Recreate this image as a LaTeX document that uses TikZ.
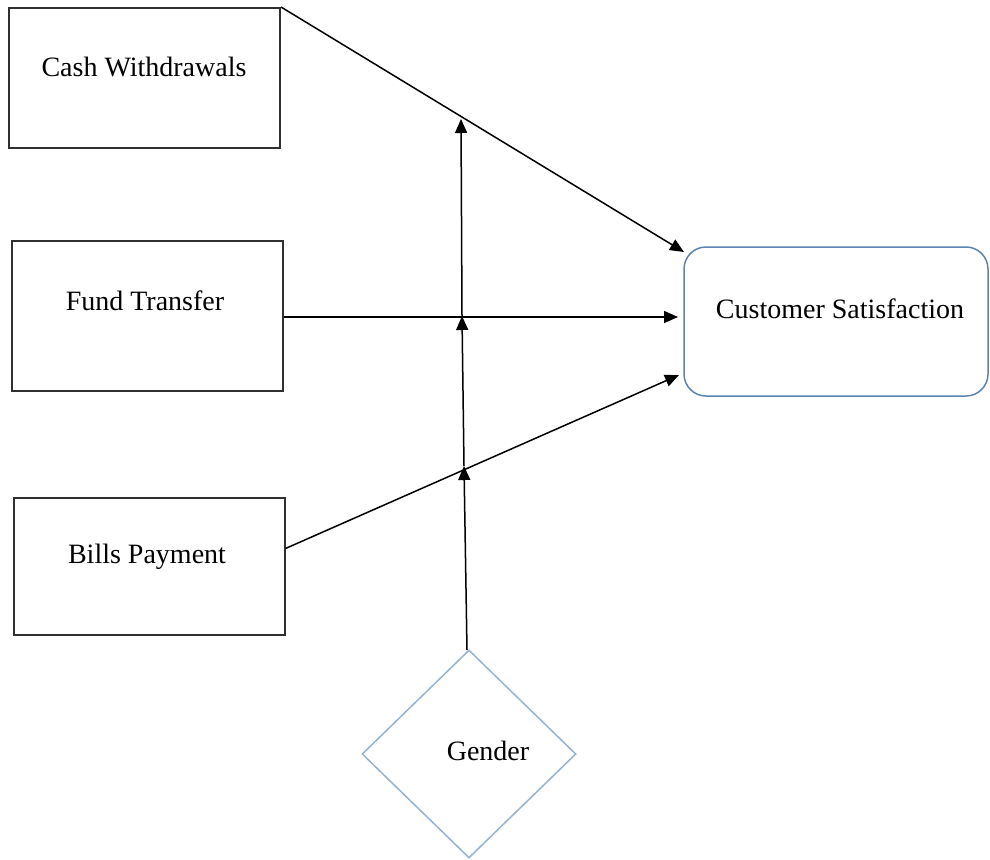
\documentclass[tikz,border=0pt]{standalone}
\usepackage{fontspec}
\setmainfont{Liberation Serif}
\usetikzlibrary{arrows.meta,shapes.geometric}
\definecolor{boxline}{HTML}{303030}
\definecolor{csline}{HTML}{5B84B1}
\definecolor{gline}{HTML}{93B3D3}
\tikzset{
  x=1pt,y=-1pt,
  inbox/.style={draw=boxline,line width=2pt,rectangle,minimum width=271pt,inner sep=0pt},
  lbl/.style={font=\fontsize{28}{32}\selectfont,inner sep=0pt,anchor=base},
  conn/.style={draw=black,line width=1.5pt,-{Triangle[length=14pt,width=12pt]}},
}
\begin{document}
\begin{tikzpicture}
\useasboundingbox (0,0) rectangle (990,859);
% boxes
\node[inbox,minimum height=140pt] (cw) at (144.5,78) {};
\node[inbox,minimum height=150pt] (ft) at (147,316) {};
\node[inbox,minimum height=137pt] (bp) at (149,566.5) {};
\node[draw=csline,line width=1.5pt,rounded corners=22pt,minimum width=304pt,minimum height=149pt,inner sep=0pt] (cs) at (836,321.5) {};
\node[draw=gline,line width=1.5pt,diamond,minimum width=214pt,minimum height=208pt,inner sep=0pt] (g) at (469,754) {};
% labels
\node[lbl] (tcw) at (144,76) {Cash Withdrawals};
\node[lbl] (tft) at (145,310) {Fund Transfer};
\node[lbl] (tbp) at (147,563) {Bills Payment};
\node[lbl] (tcs) at (840,318) {Customer Satisfaction};
\node[lbl] (tg) at (488,760) {Gender};
% connector end points
\coordinate (c1) at (684,252);
\coordinate (c2) at (678,317);
\coordinate (c3) at (679,375);
\coordinate (m1) at (461,119);
\coordinate (m2) at (462,316);
\coordinate (m3) at (464,466);
\coordinate (gt) at (467,650);
% connectors
\draw[conn] (cw.north east) -- (c1);
\draw[conn] (ft.east |- c2) -- (c2);
\draw[conn] (bp.east) ++(0,-18) coordinate (b3) (b3) -- (c3);
\draw[conn] (gt) -- (m3);
\draw[conn] (m3) -- (m2);
\draw[conn] (m2) -- (m1);
\end{tikzpicture}
\end{document}
